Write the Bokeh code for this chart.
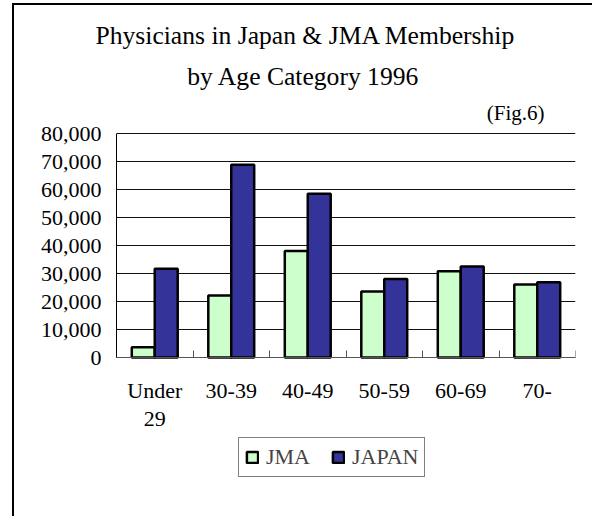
from bokeh.plotting import figure
from bokeh.models import (FactorRange, Range1d, LinearAxis, FixedTicker, NumeralTickFormatter,
                          Legend, LegendItem, Label, ColumnDataSource, Grid, Title)
from bokeh.core.properties import value
from bokeh.transform import dodge
from bokeh.embed import file_html
from bokeh.resources import INLINE

# ---- data ----
categories = ["Under 29", "30-39", "40-49", "50-59", "60-69", "70-"]
category_labels = ["Under\n29", "30-39", "40-49", "50-59", "60-69", "70-"]
jma = [3700, 22100, 38000, 23600, 30800, 26100]
japan = [31700, 68800, 58500, 28000, 32500, 26900]
y_ticks = [0, 10000, 20000, 30000, 40000, 50000, 60000, 70000, 80000]
series_names = ["JMA", "JAPAN"]
title_lines = ["Physicians in Japan & JMA Membership", "by Age Category 1996"]
fig_note = "(Fig.6)"

SERIF = "Liberation Serif"
JMA_COLOR = "#CCFFCC"
JAPAN_COLOR = "#333399"

# ---- layout (page pixels) ----
ORIGIN_X, ORIGIN_Y = 14, 5            # page position of the canvas
W, H = 592 - ORIGIN_X, 516 - ORIGIN_Y
FRAME_L, FRAME_R = 116, 575
FRAME_T, GRID_T, ZERO_Y, FRAME_B = 52, 133, 357, 480
y_max = y_ticks[-1]
px_per_unit = (ZERO_Y - GRID_T) / y_max
y_end = (ZERO_Y - FRAME_T) / px_per_unit
y_start = -(FRAME_B - ZERO_Y) / px_per_unit

label_lines = [lab.split("\n") for lab in category_labels]
line1 = [ls[0] for ls in label_lines]
line2 = [ls[1] if len(ls) > 1 else "" for ls in label_lines]

source = ColumnDataSource(data=dict(cat=categories, line1=line1, line2=line2,
                                    jma=jma, japan=japan))

p = figure(width=W, height=H,
           x_range=FactorRange(*categories), y_range=Range1d(y_start, y_end),
           x_axis_type=None, y_axis_type=None,
           output_backend="svg", toolbar_location=None,
           min_border_left=FRAME_L - ORIGIN_X, min_border_right=ORIGIN_X + W - FRAME_R,
           min_border_top=FRAME_T - ORIGIN_Y, min_border_bottom=ORIGIN_Y + H - FRAME_B)
p.styles = {"margin-left": f"{ORIGIN_X}px", "margin-top": f"{ORIGIN_Y}px",
            "outline": "2px solid black"}
p.outline_line_color = None
p.background_fill_color = "white"
p.border_fill_color = "white"

# y axis
y_axis = LinearAxis(ticker=FixedTicker(ticks=y_ticks), bounds=(0, y_max),
                    formatter=NumeralTickFormatter(format="0,0"))
y_axis.major_tick_line_color = None
y_axis.major_tick_in = 0
y_axis.major_tick_out = 0
y_axis.minor_tick_line_color = None
y_axis.minor_tick_out = 0
y_axis.axis_line_color = "black"
y_axis.axis_line_width = 1
y_axis.major_label_text_font = SERIF
y_axis.major_label_text_font_size = "22px"
y_axis.major_label_text_color = "black"
y_axis.major_label_standoff = 15
p.add_layout(y_axis, "left")

p.add_layout(Grid(dimension=1, ticker=y_axis.ticker,
                  grid_line_color="#111111", grid_line_width=1))

# x axis line at zero with small inside ticks at the category boundaries
n = len(categories)
x_axis = LinearAxis(ticker=FixedTicker(ticks=[], minor_ticks=list(range(n + 1))),
                    fixed_location=0)
x_axis.major_tick_line_color = None
x_axis.major_tick_out = 0
x_axis.minor_tick_line_color = "#555555"
x_axis.minor_tick_in = 7
x_axis.minor_tick_out = 0
x_axis.axis_line_color = "#555555"
x_axis.axis_line_width = 1
x_axis.major_label_text_font_size = "0px"
x_axis.major_label_standoff = 0
p.add_layout(x_axis, "below")

# category labels under the axis (two text rows)
for col, off in (("line1", 33), ("line2", 61)):
    p.text(x="cat", y=0, text=col, source=source, y_offset=off,
           text_align="center", text_baseline="alphabetic",
           text_font=value(SERIF), text_font_size=value("22px"),
           text_color="black")

r1 = p.vbar(x=dodge("cat", -0.15, range=p.x_range), top="jma", width=0.3,
            source=source, fill_color=JMA_COLOR, line_color="black", line_width=2.5)
r2 = p.vbar(x=dodge("cat", 0.15, range=p.x_range), top="japan", width=0.3,
            source=source, fill_color=JAPAN_COLOR, line_color="black", line_width=2.5)

legend = Legend(items=[LegendItem(label=series_names[0], renderers=[r1]),
                       LegendItem(label=series_names[1], renderers=[r2])],
                location=(238 - FRAME_L, FRAME_B - 477), orientation="horizontal")
legend.label_text_font = SERIF
legend.label_text_font_size = "22px"
legend.glyph_width = 14
legend.glyph_height = 14
legend.padding = 6
legend.spacing = 20
legend.label_standoff = 7
legend.label_width = 45
legend.margin = 0
legend.border_line_color = "black"
legend.border_line_width = 1.5
legend.background_fill_color = "white"
legend.background_fill_alpha = 1
p.add_layout(legend)

# title line 1 (above the frame)
p.add_layout(Title(text=title_lines[0], align="left", offset=95 - FRAME_L,
                   vertical_align="bottom", standoff=5,
                   text_font=SERIF, text_font_size="25.6px", text_font_style="normal",
                   text_color="black"), "above")
# title line 2 and figure note (inside the upper part of the frame)
p.add_layout(Label(x=303 - FRAME_L, y=FRAME_B - 76, x_units="screen", y_units="screen",
                   text=title_lines[1], text_align="center", text_baseline="alphabetic",
                   text_font=SERIF, text_font_size="25.6px", text_color="black"))
p.add_layout(Label(x=544 - FRAME_L, y=FRAME_B - 112, x_units="screen", y_units="screen",
                   text=fig_note, text_align="right", text_baseline="alphabetic",
                   text_font=SERIF, text_font_size="21px", text_color="black"))

open("out.html", "w").write(file_html(p, INLINE))
